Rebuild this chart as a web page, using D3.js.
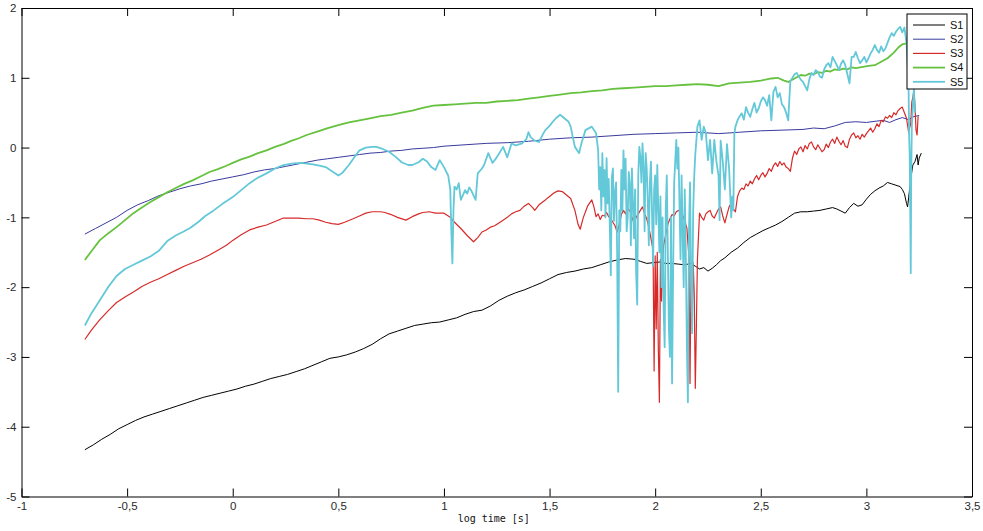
<!DOCTYPE html>
<html>
<head>
<meta charset="utf-8">
<script src="https://cdn.jsdelivr.net/npm/d3@7"></script>
<style>
  html, body { margin: 0; padding: 0; background: #fff; }
  svg { display: block; }
  .tick text { font-family: "Liberation Sans", Arial, sans-serif; font-size: 11.5px; fill: #2a2a2a; }
</style>
</head>
<body>
<svg id="chart" width="983" height="531"></svg>
<script>
// Axis tick values
const xTicks = [-1, -0.5, 0, 0.5, 1, 1.5, 2, 2.5, 3, 3.5];
const yTicks = [-5, -4, -3, -2, -1, 0, 1, 2];
const seriesNames = ["S1", "S2", "S3", "S4", "S5"];
const seriesColors = ["#000000", "#3a3a9e", "#d62a2a", "#66c23e", "#63c8d8"];

// S1: [log time, value]
const s1 = [[-0.70,-4.33],[-0.66,-4.26],[-0.62,-4.18],[-0.58,-4.11],[-0.54,-4.03],[-0.50,-3.97],[-0.46,-3.91],[-0.42,-3.86],[-0.38,-3.82],[-0.34,-3.78],[-0.30,-3.74],[-0.26,-3.70],[-0.22,-3.66],[-0.18,-3.62],[-0.14,-3.58],[-0.10,-3.55],[-0.06,-3.52],[-0.02,-3.49],[0.02,-3.46],[0.06,-3.42],[0.10,-3.39],[0.14,-3.35],[0.18,-3.31],[0.22,-3.28],[0.26,-3.25],[0.30,-3.21],[0.34,-3.17],[0.38,-3.12],[0.42,-3.07],[0.46,-3.02],[0.50,-3.00],[0.54,-2.97],[0.58,-2.93],[0.62,-2.88],[0.66,-2.82],[0.70,-2.74],[0.74,-2.67],[0.78,-2.63],[0.82,-2.59],[0.86,-2.55],[0.90,-2.53],[0.94,-2.51],[0.98,-2.50],[1.02,-2.47],[1.06,-2.44],[1.10,-2.39],[1.14,-2.35],[1.18,-2.33],[1.22,-2.27],[1.26,-2.19],[1.30,-2.13],[1.34,-2.08],[1.38,-2.04],[1.42,-1.99],[1.46,-1.94],[1.50,-1.88],[1.54,-1.82],[1.58,-1.79],[1.62,-1.77],[1.66,-1.74],[1.70,-1.72],[1.74,-1.68],[1.78,-1.64],[1.82,-1.61],[1.86,-1.59],[1.90,-1.60],[1.93,-1.63],[1.96,-1.66],[1.99,-1.65],[2.02,-1.64],[2.05,-1.66],[2.08,-1.66],[2.11,-1.67],[2.14,-1.68],[2.17,-1.66],[2.19,-1.70],[2.21,-1.74],[2.23,-1.72],[2.25,-1.77],[2.27,-1.73],[2.29,-1.68],[2.31,-1.62],[2.33,-1.58],[2.36,-1.50],[2.39,-1.44],[2.42,-1.36],[2.45,-1.29],[2.48,-1.24],[2.51,-1.19],[2.54,-1.15],[2.57,-1.11],[2.60,-1.06],[2.63,-1.00],[2.66,-0.94],[2.69,-0.92],[2.72,-0.92],[2.75,-0.91],[2.78,-0.90],[2.81,-0.88],[2.84,-0.86],[2.86,-0.88],[2.88,-0.91],[2.90,-0.94],[2.92,-0.86],[2.94,-0.80],[2.96,-0.84],[2.98,-0.82],[3.00,-0.74],[3.02,-0.67],[3.04,-0.62],[3.06,-0.58],[3.08,-0.55],[3.10,-0.50],[3.12,-0.52],[3.14,-0.54],[3.16,-0.56],[3.17,-0.60],[3.18,-0.66],[3.19,-0.80],[3.195,-0.85],[3.20,-0.72],[3.21,-0.45],[3.22,-0.25],[3.23,-0.20],[3.24,-0.10],[3.245,-0.25],[3.25,-0.15],[3.26,-0.08]];

// S2
const s2 = [[-0.70,-1.24],[-0.65,-1.16],[-0.60,-1.08],[-0.55,-1.00],[-0.50,-0.90],[-0.45,-0.82],[-0.40,-0.76],[-0.35,-0.69],[-0.30,-0.64],[-0.25,-0.59],[-0.20,-0.55],[-0.15,-0.52],[-0.10,-0.48],[-0.05,-0.45],[0.00,-0.42],[0.05,-0.39],[0.10,-0.35],[0.15,-0.32],[0.20,-0.30],[0.25,-0.27],[0.30,-0.24],[0.35,-0.21],[0.40,-0.18],[0.45,-0.16],[0.50,-0.14],[0.55,-0.12],[0.60,-0.10],[0.65,-0.08],[0.70,-0.07],[0.75,-0.05],[0.80,-0.04],[0.85,-0.02],[0.90,-0.01],[0.95,0.00],[1.00,0.02],[1.10,0.04],[1.20,0.06],[1.30,0.07],[1.40,0.09],[1.50,0.12],[1.60,0.14],[1.70,0.15],[1.80,0.17],[1.90,0.19],[2.00,0.20],[2.10,0.21],[2.20,0.22],[2.30,0.20],[2.40,0.22],[2.50,0.24],[2.60,0.25],[2.70,0.26],[2.75,0.28],[2.80,0.27],[2.85,0.31],[2.90,0.36],[2.95,0.37],[3.00,0.36],[3.05,0.38],[3.08,0.39],[3.11,0.36],[3.14,0.40],[3.17,0.43],[3.20,0.40],[3.22,0.44],[3.25,0.46]];

// S3
const s3 = [[-0.70,-2.75],[-0.67,-2.62],[-0.63,-2.47],[-0.59,-2.34],[-0.55,-2.22],[-0.51,-2.14],[-0.47,-2.07],[-0.43,-1.99],[-0.39,-1.93],[-0.35,-1.88],[-0.31,-1.82],[-0.27,-1.76],[-0.23,-1.70],[-0.19,-1.65],[-0.15,-1.60],[-0.11,-1.54],[-0.07,-1.47],[-0.03,-1.40],[0.00,-1.33],[0.04,-1.25],[0.08,-1.18],[0.12,-1.14],[0.16,-1.11],[0.20,-1.06],[0.24,-1.01],[0.28,-1.01],[0.31,-1.01],[0.35,-1.02],[0.38,-1.02],[0.41,-1.04],[0.44,-1.07],[0.47,-1.09],[0.50,-1.10],[0.53,-1.07],[0.57,-1.02],[0.60,-0.98],[0.63,-0.94],[0.66,-0.92],[0.70,-0.92],[0.72,-0.93],[0.75,-0.96],[0.78,-1.00],[0.82,-1.04],[0.85,-0.99],[0.88,-0.95],[0.90,-0.93],[0.93,-0.92],[0.96,-0.94],[1.00,-0.94],[1.03,-1.00],[1.05,-1.07],[1.08,-1.16],[1.11,-1.26],[1.14,-1.35],[1.16,-1.29],[1.18,-1.21],[1.20,-1.18],[1.22,-1.14],[1.24,-1.12],[1.26,-1.08],[1.28,-1.04],[1.30,-1.00],[1.32,-0.95],[1.34,-0.92],[1.36,-0.90],[1.38,-0.84],[1.40,-0.80],[1.42,-0.86],[1.43,-0.90],[1.45,-0.82],[1.48,-0.75],[1.50,-0.70],[1.52,-0.65],[1.54,-0.62],[1.56,-0.63],[1.58,-0.68],[1.60,-0.73],[1.62,-0.90],[1.635,-1.10],[1.645,-1.17],[1.66,-1.00],[1.68,-0.84],[1.70,-0.75],[1.71,-0.85],[1.72,-0.99],[1.73,-0.95],[1.74,-1.03],[1.75,-0.97],[1.76,-0.98],[1.77,-0.93],[1.78,-0.99],[1.79,-1.02],[1.80,-1.07],[1.81,-1.12],[1.82,-1.21],[1.83,-1.10],[1.84,-0.96],[1.85,-0.90],[1.86,-0.95],[1.87,-0.88],[1.88,-0.90],[1.89,-1.00],[1.90,-1.08],[1.91,-1.00],[1.92,-0.95],[1.93,-0.90],[1.94,-0.85],[1.95,-0.95],[1.96,-1.02],[1.97,-1.14],[1.98,-1.30],[1.99,-1.47],[1.995,-3.20],[2.00,-1.55],[2.005,-2.60],[2.01,-1.50],[2.015,-2.90],[2.02,-3.65],[2.025,-1.60],[2.03,-2.20],[2.035,-1.70],[2.04,-1.40],[2.05,-1.25],[2.06,-1.10],[2.07,-1.02],[2.08,-0.96],[2.09,-0.98],[2.10,-0.92],[2.11,-0.90],[2.12,-0.91],[2.13,-0.97],[2.14,-1.05],[2.15,-1.15],[2.16,-1.57],[2.165,-3.38],[2.17,-1.70],[2.175,-2.50],[2.18,-1.65],[2.185,-2.10],[2.19,-3.45],[2.195,-2.59],[2.20,-1.61],[2.21,-0.94],[2.22,-1.00],[2.23,-1.04],[2.24,-0.95],[2.25,-0.92],[2.26,-0.90],[2.27,-0.98],[2.28,-1.01],[2.29,-0.94],[2.30,-0.88],[2.31,-0.85],[2.32,-0.98],[2.33,-1.08],[2.34,-0.96],[2.35,-0.85],[2.36,-0.80],[2.37,-0.88],[2.38,-0.92],[2.39,-0.70],[2.40,-0.62],[2.41,-0.58],[2.42,-0.60],[2.43,-0.52],[2.44,-0.55],[2.45,-0.48],[2.46,-0.52],[2.47,-0.45],[2.48,-0.40],[2.49,-0.46],[2.50,-0.40],[2.51,-0.36],[2.52,-0.42],[2.53,-0.37],[2.54,-0.30],[2.55,-0.34],[2.56,-0.26],[2.57,-0.22],[2.58,-0.27],[2.59,-0.20],[2.60,-0.25],[2.61,-0.22],[2.62,-0.28],[2.63,-0.30],[2.64,-0.34],[2.65,-0.15],[2.66,-0.05],[2.67,-0.10],[2.68,-0.02],[2.69,0.01],[2.70,-0.06],[2.71,0.03],[2.72,-0.02],[2.73,0.06],[2.74,0.08],[2.75,0.01],[2.76,-0.03],[2.77,0.04],[2.78,-0.01],[2.79,-0.06],[2.80,-0.03],[2.81,0.05],[2.82,0.00],[2.83,0.08],[2.84,0.12],[2.85,0.06],[2.86,0.15],[2.87,0.09],[2.88,0.04],[2.89,0.10],[2.90,0.02],[2.91,0.00],[2.92,0.12],[2.93,0.18],[2.94,0.21],[2.95,0.14],[2.96,0.17],[2.97,0.12],[2.98,0.19],[2.99,0.15],[3.00,0.20],[3.01,0.24],[3.02,0.28],[3.03,0.22],[3.04,0.27],[3.05,0.34],[3.06,0.30],[3.07,0.39],[3.08,0.37],[3.09,0.44],[3.10,0.42],[3.11,0.46],[3.12,0.43],[3.13,0.50],[3.14,0.47],[3.15,0.53],[3.16,0.56],[3.17,0.58],[3.18,0.50],[3.19,0.42],[3.20,0.22],[3.21,0.35],[3.215,0.65],[3.22,0.72],[3.225,0.82],[3.23,0.60],[3.235,0.25],[3.24,0.18],[3.245,0.45]];

// S4
const s4 = [[-0.70,-1.61],[-0.66,-1.45],[-0.63,-1.33],[-0.59,-1.23],[-0.55,-1.14],[-0.51,-1.04],[-0.47,-0.94],[-0.43,-0.86],[-0.39,-0.78],[-0.35,-0.71],[-0.31,-0.64],[-0.27,-0.58],[-0.23,-0.52],[-0.19,-0.47],[-0.15,-0.41],[-0.11,-0.35],[-0.07,-0.31],[-0.03,-0.26],[0.00,-0.22],[0.04,-0.17],[0.08,-0.13],[0.12,-0.08],[0.16,-0.04],[0.20,0.01],[0.24,0.05],[0.28,0.10],[0.31,0.13],[0.35,0.18],[0.40,0.23],[0.45,0.28],[0.50,0.32],[0.55,0.36],[0.60,0.39],[0.65,0.42],[0.70,0.45],[0.75,0.47],[0.80,0.50],[0.85,0.53],[0.90,0.57],[0.95,0.60],[1.00,0.61],[1.05,0.62],[1.10,0.63],[1.15,0.64],[1.20,0.64],[1.25,0.66],[1.30,0.67],[1.35,0.68],[1.40,0.70],[1.45,0.72],[1.50,0.74],[1.55,0.76],[1.60,0.78],[1.65,0.79],[1.70,0.81],[1.75,0.82],[1.80,0.84],[1.85,0.85],[1.90,0.86],[1.95,0.87],[2.00,0.88],[2.05,0.88],[2.10,0.89],[2.15,0.90],[2.20,0.91],[2.25,0.90],[2.30,0.88],[2.35,0.92],[2.40,0.93],[2.45,0.94],[2.50,0.96],[2.55,0.99],[2.58,1.00],[2.61,0.96],[2.63,0.94],[2.66,0.99],[2.69,1.04],[2.71,1.03],[2.73,1.06],[2.75,1.05],[2.77,1.08],[2.79,1.07],[2.81,1.10],[2.83,1.09],[2.85,1.12],[2.87,1.11],[2.89,1.13],[2.91,1.12],[2.93,1.15],[2.95,1.14],[2.97,1.15],[2.99,1.16],[3.01,1.17],[3.04,1.18],[3.07,1.23],[3.10,1.28],[3.13,1.36],[3.15,1.43],[3.17,1.48],[3.20,1.50],[3.23,1.55]];

// S5
const s5 = [[-0.70,-2.55],[-0.67,-2.38],[-0.63,-2.19],[-0.59,-2.00],[-0.55,-1.84],[-0.51,-1.74],[-0.47,-1.68],[-0.43,-1.62],[-0.39,-1.56],[-0.35,-1.48],[-0.31,-1.34],[-0.27,-1.26],[-0.23,-1.20],[-0.20,-1.15],[-0.16,-1.06],[-0.13,-0.98],[-0.09,-0.90],[-0.05,-0.81],[0.00,-0.71],[0.04,-0.61],[0.08,-0.51],[0.12,-0.43],[0.16,-0.37],[0.20,-0.30],[0.24,-0.25],[0.28,-0.23],[0.32,-0.22],[0.35,-0.23],[0.38,-0.24],[0.41,-0.26],[0.44,-0.28],[0.47,-0.34],[0.50,-0.40],[0.52,-0.36],[0.55,-0.25],[0.58,-0.12],[0.60,-0.04],[0.63,0.00],[0.66,0.01],[0.68,0.01],[0.71,-0.02],[0.74,-0.06],[0.77,-0.13],[0.80,-0.21],[0.83,-0.25],[0.85,-0.25],[0.88,-0.21],[0.90,-0.16],[0.92,-0.20],[0.94,-0.28],[0.96,-0.32],[0.98,-0.18],[1.00,-0.28],[1.02,-0.40],[1.03,-0.60],[1.035,-1.20],[1.04,-1.66],[1.045,-0.90],[1.05,-0.56],[1.06,-0.60],[1.07,-0.51],[1.08,-0.75],[1.09,-0.68],[1.10,-0.61],[1.11,-0.66],[1.12,-0.57],[1.13,-0.62],[1.15,-0.75],[1.16,-0.37],[1.18,-0.30],[1.19,-0.25],[1.21,-0.08],[1.22,-0.15],[1.23,-0.22],[1.25,-0.14],[1.27,-0.04],[1.28,0.01],[1.30,-0.14],[1.32,0.06],[1.34,0.03],[1.37,0.06],[1.39,0.12],[1.40,0.22],[1.41,0.15],[1.43,0.10],[1.45,0.08],[1.47,0.20],[1.48,0.25],[1.50,0.31],[1.51,0.35],[1.53,0.42],[1.55,0.47],[1.57,0.42],[1.59,0.37],[1.60,0.30],[1.61,0.15],[1.62,0.01],[1.64,-0.08],[1.65,0.05],[1.67,0.25],[1.70,0.30],[1.72,0.21],[1.73,-0.04],[1.735,-0.60],[1.74,-0.28],[1.745,-0.90],[1.75,-0.08],[1.755,-0.70],[1.76,-0.32],[1.765,-1.00],[1.77,-0.15],[1.775,-0.80],[1.78,-0.45],[1.785,-1.10],[1.79,-1.83],[1.795,-0.42],[1.80,-0.30],[1.805,-1.05],[1.81,-0.65],[1.815,-0.50],[1.82,-1.50],[1.825,-3.50],[1.83,-0.90],[1.835,-1.20],[1.84,-0.32],[1.845,-0.90],[1.85,-0.04],[1.855,-0.60],[1.86,-0.16],[1.865,-1.20],[1.87,-1.00],[1.875,-0.35],[1.88,-0.51],[1.885,-1.40],[1.89,-0.30],[1.895,-0.80],[1.90,-1.30],[1.905,-0.60],[1.91,-1.80],[1.915,-2.25],[1.92,-0.40],[1.925,0.01],[1.93,-0.14],[1.935,-0.50],[1.94,0.06],[1.945,-0.28],[1.95,-1.20],[1.955,-0.08],[1.96,-0.30],[1.965,-0.75],[1.97,-1.40],[1.975,-0.50],[1.98,-0.20],[1.985,-0.90],[1.99,-1.70],[1.995,-0.60],[2.00,-0.40],[2.005,-1.10],[2.01,-0.25],[2.015,-0.90],[2.02,-1.50],[2.025,-0.70],[2.03,-2.00],[2.035,-1.00],[2.04,-2.30],[2.045,-2.86],[2.05,-0.90],[2.055,-0.40],[2.06,-1.50],[2.065,-2.60],[2.07,-3.00],[2.075,-1.00],[2.08,-3.38],[2.085,-1.80],[2.09,-0.50],[2.095,-0.20],[2.10,0.11],[2.105,-0.30],[2.11,0.00],[2.115,-0.80],[2.12,-1.60],[2.125,-0.40],[2.13,-1.20],[2.135,-2.00],[2.14,-0.60],[2.145,-1.50],[2.15,-2.80],[2.155,-3.65],[2.16,-1.20],[2.165,-0.50],[2.17,-1.80],[2.175,-2.66],[2.18,-0.90],[2.185,-0.40],[2.19,-0.10],[2.20,0.30],[2.21,0.39],[2.22,0.11],[2.23,0.30],[2.24,0.21],[2.25,-0.18],[2.26,0.11],[2.27,-0.37],[2.28,0.11],[2.29,-0.20],[2.30,-0.40],[2.305,-1.04],[2.31,0.10],[2.32,-0.20],[2.33,-0.60],[2.34,0.05],[2.35,-0.30],[2.36,-1.00],[2.365,-0.70],[2.37,-0.90],[2.375,0.20],[2.38,0.30],[2.39,0.39],[2.40,0.45],[2.41,0.49],[2.42,0.40],[2.43,0.58],[2.44,0.50],[2.45,0.44],[2.46,0.55],[2.47,0.64],[2.48,0.50],[2.49,0.56],[2.50,0.66],[2.51,0.72],[2.52,0.68],[2.53,0.60],[2.54,0.75],[2.55,0.39],[2.555,0.60],[2.56,0.80],[2.57,0.87],[2.58,0.72],[2.59,0.78],[2.60,0.62],[2.61,0.58],[2.62,0.50],[2.63,0.39],[2.635,0.68],[2.64,0.95],[2.65,1.00],[2.66,1.05],[2.67,1.07],[2.68,1.02],[2.69,0.97],[2.70,0.94],[2.71,0.88],[2.72,0.82],[2.73,0.98],[2.74,1.07],[2.75,1.04],[2.76,1.11],[2.77,1.08],[2.78,1.02],[2.79,1.00],[2.80,1.12],[2.81,1.18],[2.82,1.21],[2.83,1.15],[2.84,1.30],[2.85,1.24],[2.86,1.18],[2.87,1.11],[2.88,1.20],[2.89,1.25],[2.90,1.18],[2.91,1.05],[2.92,0.92],[2.93,1.30],[2.94,1.30],[2.95,1.37],[2.96,1.28],[2.97,1.21],[2.98,1.25],[2.99,1.30],[3.00,1.22],[3.01,1.28],[3.02,1.35],[3.03,1.40],[3.04,1.47],[3.05,1.40],[3.06,1.36],[3.07,1.45],[3.08,1.38],[3.09,1.42],[3.10,1.50],[3.11,1.58],[3.12,1.64],[3.13,1.60],[3.14,1.66],[3.15,1.70],[3.16,1.73],[3.17,1.65],[3.18,1.72],[3.19,1.50],[3.195,1.20],[3.20,0.80],[3.202,0.20],[3.205,-0.10],[3.208,-1.00],[3.21,-1.80],[3.212,-0.50],[3.215,0.30],[3.22,0.60],[3.225,0.85],[3.23,0.50]];

const seriesData = [s1, s2, s3, s4, s5];
const lineWidths = [1, 1, 1.2, 1.8, 1.8];

const svg = d3.select("#chart");
const plotLeft = 21.5, plotRight = 972, plotTop = 8, plotBottom = 496.5;

const x = d3.scaleLinear().domain([-1, 3.5]).range([plotLeft, plotRight]);
const y = d3.scaleLinear().domain([-5, 2]).range([plotBottom, plotTop]);

const fmt = d => String(d).replace(".", ",");

// Data lines
const line = d3.line().x(d => x(d[0])).y(d => y(d[1]));
seriesData.forEach((data, i) => {
  svg.append("path")
    .datum(data)
    .attr("fill", "none")
    .attr("stroke", seriesColors[i])
    .attr("stroke-width", lineWidths[i])
    .attr("stroke-linejoin", "round")
    .attr("d", line);
});

// Axes: labelled bottom/left, mirrored ticks on top/right
const axisB = d3.axisBottom(x).tickValues(xTicks).tickFormat(fmt).tickSizeInner(-8).tickSizeOuter(0).tickPadding(5);
const axisL = d3.axisLeft(y).tickValues(yTicks).tickFormat(fmt).tickSizeInner(-8).tickSizeOuter(0).tickPadding(5);
const axisT = d3.axisTop(x).tickValues(xTicks).tickFormat("").tickSizeInner(-8).tickSizeOuter(0);
const axisR = d3.axisRight(y).tickValues(yTicks).tickFormat("").tickSizeInner(-8).tickSizeOuter(0);

function styleAxis(g) {
  g.select(".domain").attr("stroke", "#000").attr("stroke-width", 1);
  g.selectAll(".tick line").attr("stroke", "#000").attr("stroke-width", 1);
}

svg.append("g").attr("transform", `translate(0,${plotBottom})`).call(axisB).call(styleAxis);
svg.append("g").attr("transform", `translate(${plotLeft},0)`).call(axisL).call(styleAxis);
svg.append("g").attr("transform", `translate(0,${plotTop})`).call(axisT).call(styleAxis);
svg.append("g").attr("transform", `translate(${plotRight},0)`).call(axisR).call(styleAxis);

// Axis title
svg.append("text")
  .attr("x", (plotLeft + plotRight) / 2 - 3)
  .attr("y", 522)
  .attr("text-anchor", "middle")
  .attr("font-family", "'DejaVu Sans Mono', monospace")
  .attr("font-size", 10)
  .attr("fill", "#111")
  .text("log time [s]");

// Legend
const lg = svg.append("g").attr("transform", "translate(907,14)");
lg.append("rect").attr("width", 60).attr("height", 75).attr("fill", "#fff").attr("stroke", "#000").attr("stroke-width", 1);
seriesNames.forEach((name, i) => {
  const yy = 11 + i * 14.2;
  lg.append("line").attr("x1", 6).attr("x2", 38).attr("y1", yy).attr("y2", yy)
    .attr("stroke", seriesColors[i]).attr("stroke-width", lineWidths[i]);
  lg.append("text").attr("x", 43).attr("y", yy).attr("dy", "0.35em")
    .attr("font-family", "'Liberation Sans', Arial, sans-serif").attr("font-size", 11).attr("fill", "#111")
    .text(name);
});
</script>
</body>
</html>
